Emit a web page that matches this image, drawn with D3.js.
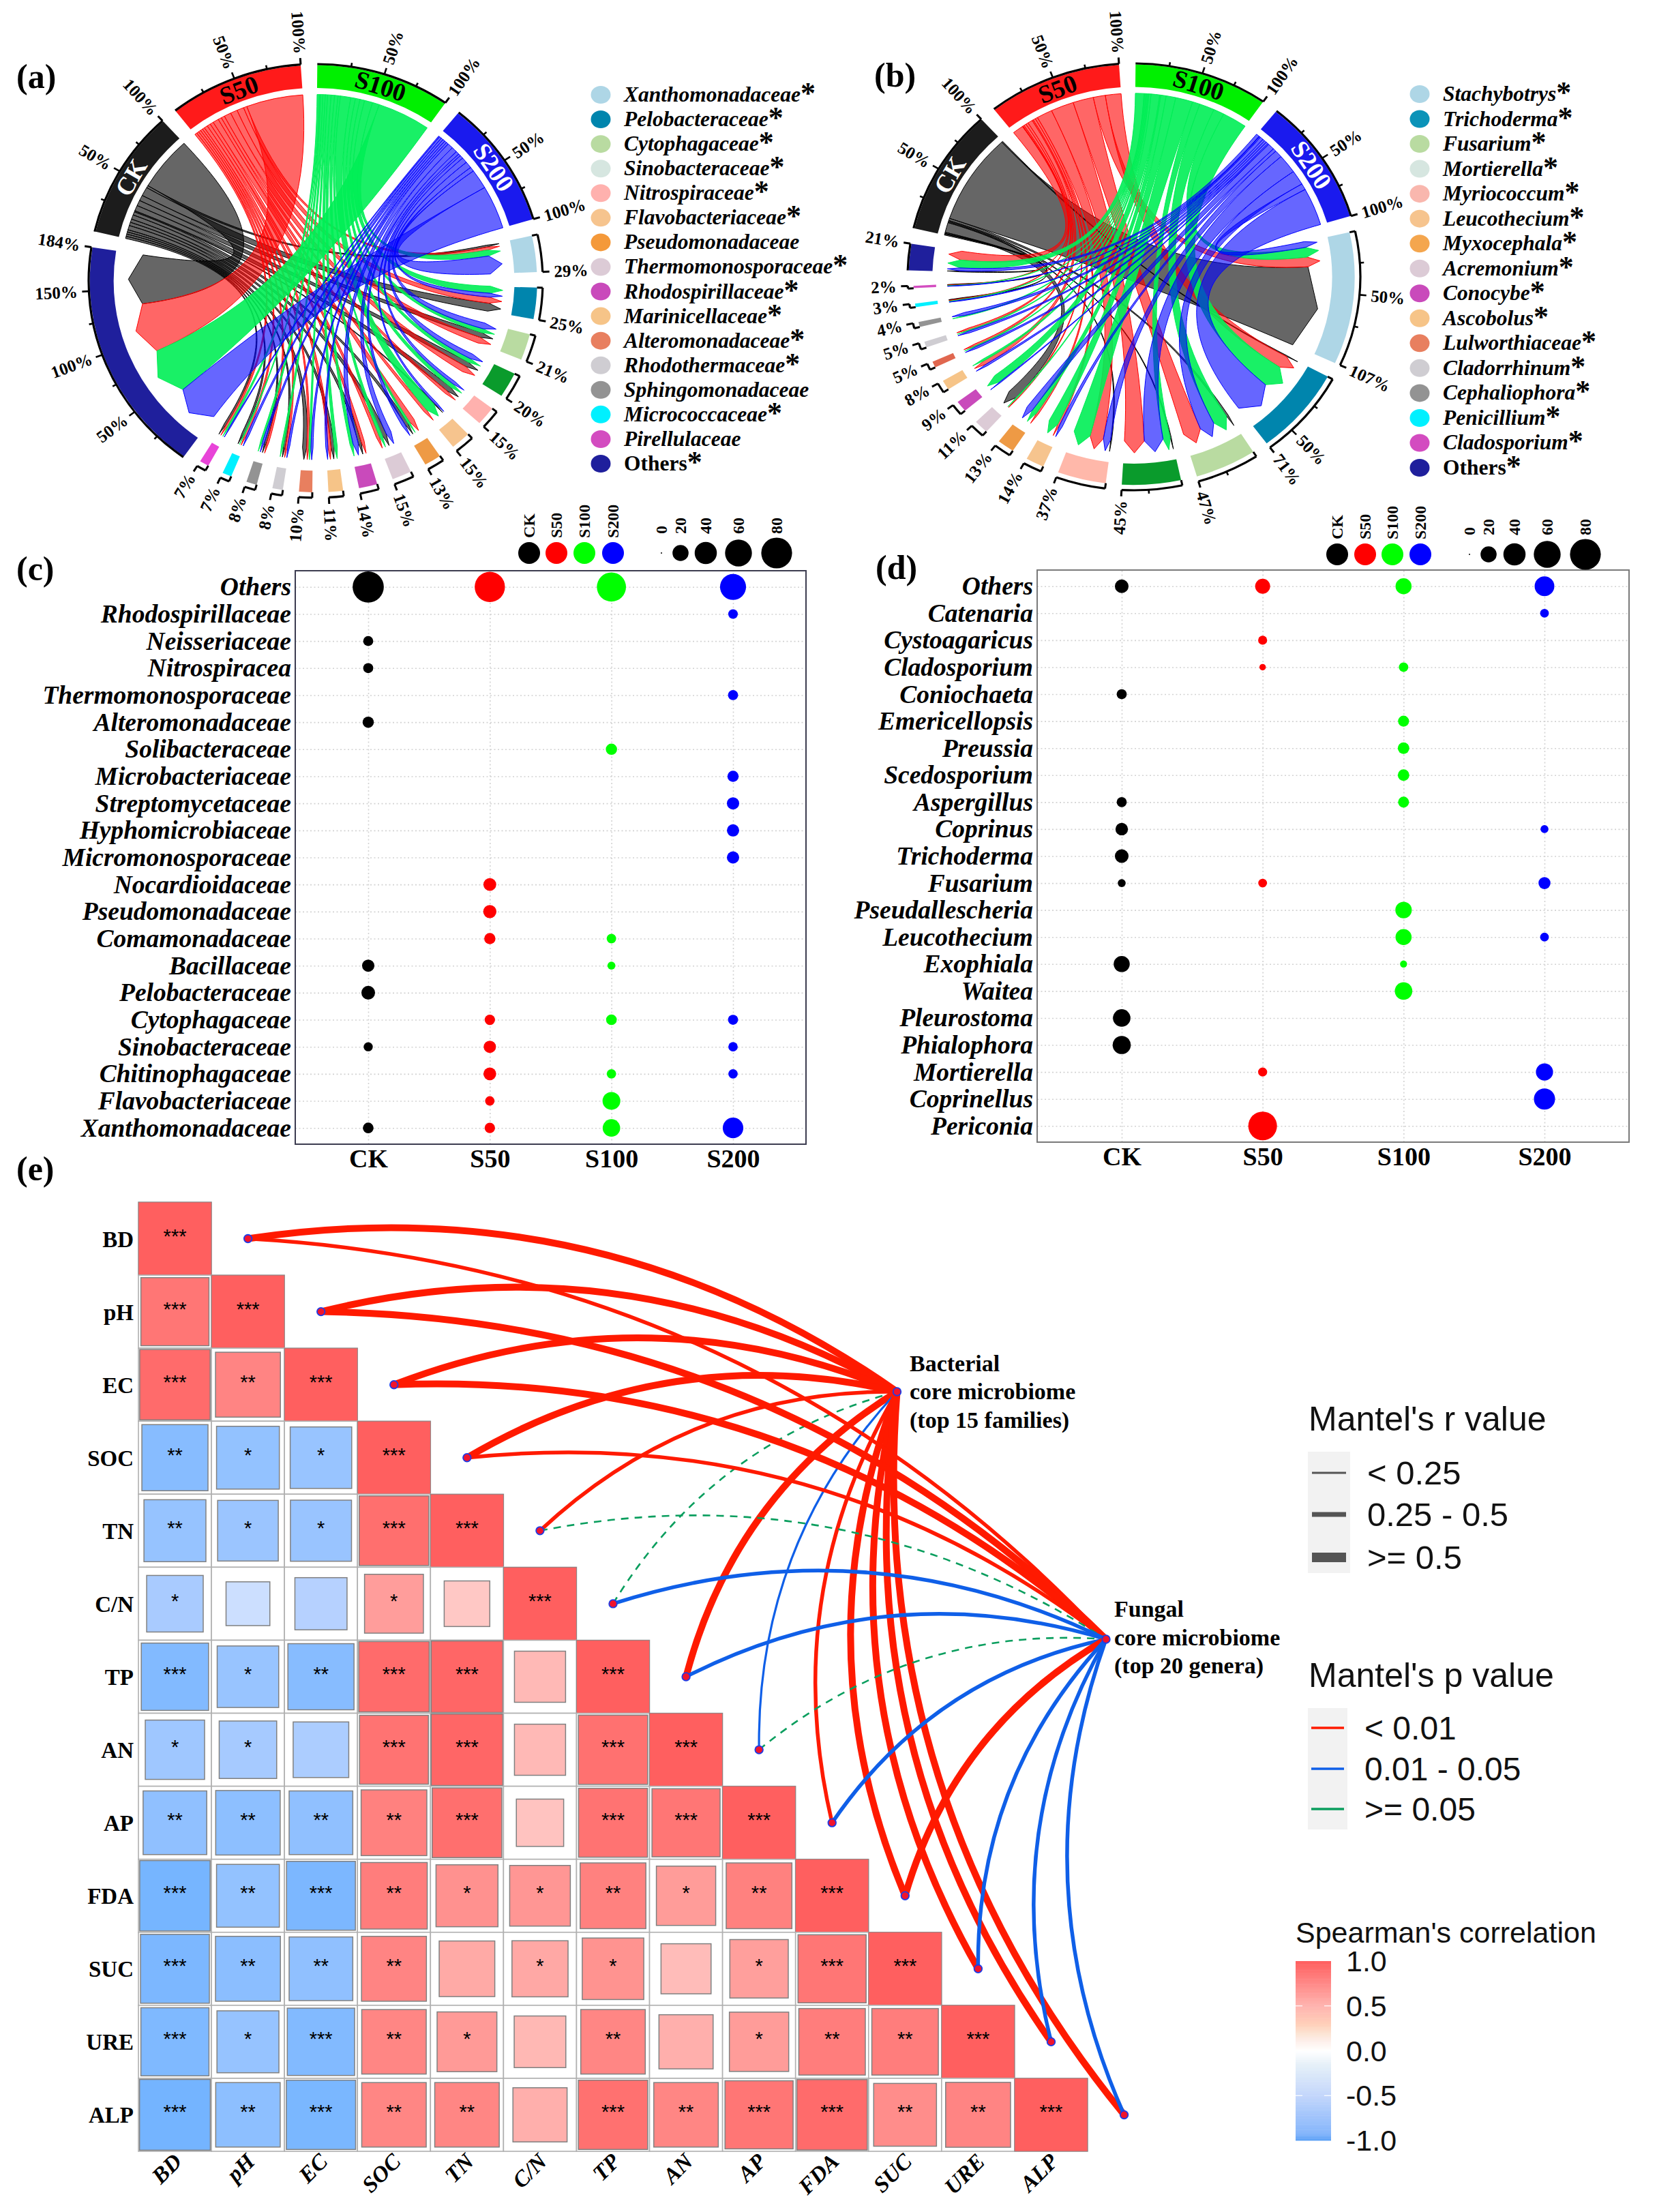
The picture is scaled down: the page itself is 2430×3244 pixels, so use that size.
<!DOCTYPE html>
<html><head><meta charset="utf-8">
<script src="https://cdn.jsdelivr.net/npm/d3@7"></script>
<style>
html,body{margin:0;padding:0;background:#fff}
text{font-family:"Liberation Serif",serif}
.b{font-weight:700}
.bi{font-weight:700;font-style:italic}
.sans{font-family:"Liberation Sans",sans-serif}
</style></head><body><svg id="c" width="2430" height="3244" viewBox="0 0 2430 3244"></svg>
<script>
// ---------- chord data ----------
const treatments=["CK","S50","S100","S200"];
const treatmentFill=["#1c1c1c","#ff1a1a","#00f000","#1a1aee"];
const treatmentLink=["#000000","#ff0000","#00ee55","#0000ff"];
const treatmentLinkOpacity=[0.6,0.6,0.9,0.6];
const treatmentNameFill=["#fff","#000","#000","#fff"];

const familiesA=["Xanthomonadaceae","Pelobacteraceae","Cytophagaceae","Sinobacteraceae","Nitrospiraceae","Flavobacteriaceae","Pseudomonadaceae","Thermomonosporaceae","Rhodospirillaceae","Marinicellaceae","Alteromonadaceae","Rhodothermaceae","Sphingomonadaceae","Micrococcaceae","Pirellulaceae","Others"];
const totalsA=[29,25,21,20,15,15,13,15,14,11,10,8,8,7,7,184];
const starredA=[1,1,1,1,1,1,0,1,1,1,1,1,0,1,0,1];
const legendColorsA=["#aed6e6","#0085ad","#b9dba1","#d6e6e0","#ffb1ae","#f6c48e","#f4993a","#dccbd6","#c94abb","#f6c488","#e87f5f","#cfcdd2","#939393","#00f0ff","#d34cc0","#1f1f9c"];
const barColorsA=["#aed6e6","#0085ad","#b9dba1","#0a9b2c","#ffb1ae","#f6c48e","#ee9a45","#dccbd6","#c94abb","#f6c488","#e87f5f","#cfcdd2","#939393","#00f0ff","#e844d8","#1f1f9c"];
// rows follow families, columns CK,S50,S100,S200
const linksA=[[2,3,6,18],[8,6,7,4],[5,6,4,6],[5,6,4,5],[5,3,4,3],[1,3,9,2],[3,5,2,3],[4,3,3,5],[3,3,3,5],[3,3,3,2],[4,2,2,2],[2,2,2,2],[2,2,2,2],[2,2,1,2],[2,2,2,1],[49,49,46,40]];
// clockwise order of treatments inside each target sector
const targetOrderA=[[0,1,2,3],[2,3,1,0],[3,2,0,1],[3,2,0,1],[3,2,0,1],[3,0,2,1],[1,2,0,3],[3,0,2,1],[1,0,3,2],[2,0,1,3],[3,2,1,0],[3,1,0,2],[1,0,3,2],[3,1,2,0],[3,2,1,0],[3,2,1,0]];
const sourceOrderA=[14,13,12,11,10,9,8,7,6,5,4,3,2,1,0,15];

const familiesB=["Stachybotrys","Trichoderma","Fusarium","Mortierella","Myriococcum","Leucothecium","Myxocephala","Acremonium","Conocybe","Ascobolus","Lulworthiaceae","Cladorrhinum","Cephaliophora","Penicillium","Cladosporium","Others"];
const totalsB=[107,71,47,45,37,14,13,11,9,8,5,5,4,3,2,21];
const starredB=[1,1,1,1,1,1,1,1,1,1,1,1,1,1,1,1];
const legendColorsB=["#aed6e6","#0b93b8","#b9dba1","#d6e6e0","#f9b7ae","#f6c48e","#f4a64e","#dccbd6","#c94abb","#f6c488","#e87f5f","#cfcdd2","#939393","#00f0ff","#d34cc0","#1f1f9c"];
const barColorsB=["#aed6e6","#0085ad","#b9dba1","#0a9b2c","#ffb8aa","#f6c48e","#ee9a45","#dccbd6","#c94abb","#f6c488","#e0674f","#cfcdd2","#939393","#00f0ff","#d34cc0","#1f1f9c"];
const linksB=[[82,10,10,6],[1,13,23,36],[2,17,14,14],[1,19,7,18],[1,13,16,7],[0,2,9,3],[0,2,5,6],[9,1,1,0],[0,0,8,1],[0,4,2,2],[0,2,1,2],[0,2,1,2],[0,0,1,3],[1,1,1,1],[0.5,0.5,0.5,0.5],[1,9,8,3]];
const targetOrderB=[[3,2,1,0],[0,1,2,3],[0,2,3,1],[0,2,3,1],[0,3,1,2],[3,1,2,0],[1,2,3,0],[1,2,0,3],[3,2,1,0],[3,1,2,0],[3,2,1,0],[3,2,1,0],[2,3,1,0],[3,2,1,0],[3,2,1,0],[0,3,2,1]];
const sourceOrderB=[15,14,13,12,11,10,9,8,7,6,5,4,3,2,0,1];

// ---------- bubble data ----------
const bubbleColumns=["CK","S50","S100","S200"];
const bubbleFill=["#000000","#ff0000","#00ff00","#0000ff"];
const sizeLegend=[0,20,40,60,80];
const rowsC=["Others","Rhodospirillaceae","Neisseriaceae","Nitrospiracea","Thermomonosporaceae","Alteromonadaceae","Solibacteraceae","Microbacteriaceae","Streptomycetaceae","Hyphomicrobiaceae","Micromonosporaceae","Nocardioidaceae","Pseudomonadaceae","Comamonadaceae","Bacillaceae","Pelobacteraceae","Cytophagaceae","Sinobacteraceae","Chitinophagaceae","Flavobacteriaceae","Xanthomonadaceae"];
const valuesC=[[82,77,71,56],[0,0,0,6.3],[7,0,0,0],[7,0,0,0],[0,0,0,7],[9,0,0,0],[0,0,9,0],[0,0,0,9],[0,0,0,11],[0,0,0,11],[0,0,0,11],[0,12,0,0],[0,13,0,0],[0,9,6,0],[11,0,4,0],[14,0,0,0],[0,7.5,8,7],[5.5,11,0,6],[0,12,6,6],[0,6,25,0],[8,7.5,24,34]];
const rowsD=["Others","Catenaria","Cystoagaricus","Cladosporium","Coniochaeta","Emericellopsis","Preussia","Scedosporium","Aspergillus","Coprinus","Trichoderma","Fusarium","Pseudallescheria","Leucothecium","Exophiala","Waitea","Pleurostoma","Phialophora","Mortierella","Coprinellus","Periconia"];
const valuesD=[[14,17,20,31],[0,0,0,5],[0,5.4,0,0],[0,2.4,6,0],[7,0,0,0],[0,0,8.5,0],[0,0,9.5,0],[0,0,9.5,0],[7,0,8.5,0],[11.5,0,0,4],[14,0,0,0],[4,5,0,10.5],[0,0,21,0],[0,0,20,5],[20,0,3,0],[0,0,24,0],[24,0,0,0],[26,0,0,0],[0,5.5,0,23],[0,0,0,36],[0,69,0,0]];

// ---------- correlation data ----------
const envVars=["BD","pH","EC","SOC","TN","C/N","TP","AN","AP","FDA","SUC","URE","ALP"];
const corrLower=[
[1],
[.87,1],
[.93,.79,1],
[-.82,-.74,-.71,1],
[-.72,-.69,-.70,.91,1],
[-.60,-.36,-.51,.65,.39,1],
[-.85,-.71,-.82,.93,.96,.49,1],
[-.66,-.62,-.58,.89,.96,.49,.90,1],
[-.76,-.78,-.76,.81,.91,.42,.89,.87,1],
[-.93,-.74,-.89,.83,.72,.69,.81,.66,.81,1],
[-.89,-.79,-.76,.79,.58,.59,.71,.47,.64,.87,1],
[-.87,-.72,-.85,.78,.67,.50,.78,.55,.66,.83,.83,1],
[-.94,-.78,-.90,.78,.78,.55,.90,.78,.87,.93,.74,.79,1]];
const starsLower=[
["***"],
["***","***"],
["***","**","***"],
["**","*","*","***"],
["**","*","*","***","***"],
["*","","","*","","***"],
["***","*","**","***","***","","***"],
["*","*","","***","***","","***","***"],
["**","**","**","**","***","","***","***","***"],
["***","**","***","**","*","*","**","*","**","***"],
["***","**","**","**","","*","*","","*","***","***"],
["***","*","***","**","*","","**","","*","**","**","***"],
["***","**","***","**","**","","***","**","***","***","**","**","***"]];
const corrStops=[-1,-.5,0,.5,1];
const corrColors=["#6bb0ff","#b8d2ff","#ffffff","#ffb8b4","#ff5f5f"];
const barStops=[-1,-.92,-.5,-.15,0,.12,.2,.3,.5,1];
const barColors=["#5aa0f5","#86b6fb","#c3d6fb","#e6f0f8","#ffffff","#fdeee8","#fce2d2","#ffcfb8","#ffb4b0","#ff5f5f"];
const corrTicks=[1,.5,0,-.5,-1];
// Mantel classes: p 0 <0.01, 1 0.01-0.05, 2 >=0.05 ; r 0 <0.25, 1 0.25-0.5, 2 >=0.5
const bacterialP=[0,0,0,0,0,2,0,1,0,0,0,0,0];
const bacterialR=[2,2,2,2,1,0,2,0,1,2,2,2,2];
const fungalP=[0,0,0,0,2,1,1,2,1,0,1,1,1];
const fungalR=[1,2,2,1,0,1,1,0,1,2,1,1,1];
const pColors=["#ff1a00","#0f5fe8","#0a9e5e"];
const rWidths=[3.2,5.5,10];
const rLegend=["< 0.25","0.25 - 0.5",">= 0.5"];
const pLegend=["< 0.01","0.01 - 0.05",">= 0.05"];

const svg=d3.select("#c");
const rad=d=>d*Math.PI/180;

function panelLabel(t,x,y){svg.append("text").attr("class","b").attr("x",x).attr("y",y).attr("font-size",50).text(t);}
panelLabel("(a)",24,129);panelLabel("(b)",1282,127);panelLabel("(c)",24,851);panelLabel("(d)",1284,849);panelLabel("(e)",24,1731);

function drawChord(o){
  const names=[...treatments,...o.families];
  const vals=[100,100,100,100,...o.totals];
  // circular order: S100,S200,families...,CK,S50
  const seq=[2,3,...o.families.map((_,i)=>i+4),0,1];
  const gap=4.2,sum=d3.sum(vals),unit=(360-gap*seq.length)/sum;
  let a=0.4;const scale={};
  seq.forEach(i=>{scale[i]=d3.scaleLinear().domain([0,vals[i]]).range([a,a+vals[i]*unit]);a+=vals[i]*unit+gap;});
  const px=(deg,r)=>[o.cx+o.rx*r*Math.sin(rad(deg)),o.cy-o.ry*r*Math.cos(rad(deg))];
  const root=svg.append("g");
  const uni=root.append("g").attr("transform",`translate(${o.cx},${o.cy}) scale(${o.rx},${o.ry})`);
  const up=(deg,r)=>[r*Math.sin(rad(deg)),-r*Math.cos(rad(deg))];

  // link geometry
  const tPos=o.families.map((f,i)=>{
    const s=scale[i+4];const tot=d3.sum(o.links[i]);let cur=0;const out={};
    o.targetOrder[i].forEach(t=>{const v=o.links[i][t];out[t]=[s(cur/tot*o.totals[i]),s((cur+v)/tot*o.totals[i])];cur+=v;});
    return out;});
  const paths=[];
  treatments.forEach((tn,t)=>{
    const s=scale[t];const tot=d3.sum(o.links,r=>r[t]);let cur=0;
    o.sourceOrder.forEach(fi=>{
      const v=o.links[fi][t];if(!v)return;
      const s0=s(cur/tot*100),s1=s((cur+v)/tot*100);cur+=v;
      const [t0,t1]=tPos[fi][t];const tm=(t0+t1)/2;
      const rs=0.86,rt=0.825,rb=0.77,c=0.25;
      const p=d3.path();
      p.moveTo(...up(s0,rs));
      p.arc(0,0,rs,rad(s0-90),rad(s1-90));
      p.bezierCurveTo(...up(s1,c),...up(t0,c),...up(t0,rb));
      p.lineTo(...up(tm,rt));
      p.lineTo(...up(t1,rb));
      p.bezierCurveTo(...up(t1,c),...up(s0,c),...up(s0,rs));
      p.closePath();
      paths.push({d:p.toString(),t});
    });
  });
  uni.selectAll("path.link").data(paths).join("path").attr("class","link").attr("d",d=>d.d)
    .attr("fill",d=>treatmentLink[d.t]).attr("fill-opacity",d=>treatmentLinkOpacity[d.t])
    .attr("stroke",d=>treatmentLink[d.t]).attr("stroke-width",1).attr("vector-effect","non-scaling-stroke");

  // sector bars
  const isBig=i=>i<4||i===names.length-1;
  const arc=d3.arc();
  seq.forEach(i=>{
    const [a0,a1]=scale[i].range();
    uni.append("path").attr("d",arc({innerRadius:isBig(i)?0.89:0.875,outerRadius:isBig(i)?0.995:0.975,startAngle:rad(a0),endAngle:rad(a1)}))
      .attr("fill",i<4?treatmentFill[i]:o.barColors[i-4]);
    // axis line
    const ax=d3.path();ax.arc(0,0,1,rad(a0-90),rad(a1-90));
    uni.append("path").attr("d",ax.toString()).attr("fill","none").attr("stroke","#000").attr("stroke-width",3.2).attr("vector-effect","non-scaling-stroke");
    const tick=(deg,r0,r1,w)=>{const[p,q]=[up(deg,r0),up(deg,r1)];uni.append("line").attr("x1",p[0]).attr("y1",p[1]).attr("x2",q[0]).attr("y2",q[1]).attr("stroke","#000").attr("stroke-width",w).attr("vector-effect","non-scaling-stroke");};
    const label=(deg,t)=>{
      const d=((deg%360)+360)%360,right=d<180;
      const [x,y]=px(deg,1.05);
      root.append("text").attr("class","b").attr("font-size",25)
        .attr("transform",`translate(${x},${y}) rotate(${right?d-90:d+90})`)
        .attr("text-anchor",right?"start":"end").attr("dy","0.34em").text(t);
    };
    const V=vals[i],s=scale[i];
    if(!isBig(i))tick(s(0),1,0.975,3);
    if(V>=30)d3.range(25,V,25).filter(v=>V-v>=15).forEach(v=>{const lab=v%50===0;tick(s(v),1,lab?1.03:1.018,2.6);if(lab)label(s(v),v+"%");});
    tick(s(V),1,1.03,3);label(s(V),V+"%");
    if(i<4){
      const m=(a0+a1)/2,[x,y]=px(m,0.943);
      root.append("text").attr("class","b").attr("font-size",37).attr("fill",treatmentNameFill[i])
        .attr("transform",`translate(${x},${y}) rotate(${m})`).attr("text-anchor","middle").attr("dy","0.34em").text(names[i]);
    }
  });
  // legend
  const yL=d3.scaleLinear().domain([0,15]).range([o.ly0,o.ly1]);
  o.families.forEach((f,i)=>{
    svg.append("ellipse").attr("cx",o.lx).attr("cy",yL(i)).attr("rx",14.5).attr("ry",13).attr("fill",o.legendColors[i]);
    const t=svg.append("text").attr("x",o.lx+34).attr("y",yL(i)+10).attr("font-size",o.lfs).attr("class",f==="Others"?"b":"bi").text(f);
    if(o.starred[i])t.append("tspan").attr("font-size",44).attr("font-style","normal").attr("dy",2).text("*");
  });
}
drawChord({cx:463,cy:412,rx:333,ry:318,families:familiesA,totals:totalsA,links:linksA,targetOrder:targetOrderA,sourceOrder:sourceOrderA,barColors:barColorsA,legendColors:legendColorsA,starred:starredA,lx:881,ly0:139,ly1:680,lfs:31.5});
drawChord({cx:1663,cy:406,rx:332,ry:313,families:familiesB,totals:totalsB,links:linksB,targetOrder:targetOrderB,sourceOrder:sourceOrderB,barColors:barColorsB,legendColors:legendColorsB,starred:starredB,lx:2082,ly0:138,ly1:686,lfs:31.5});

// ---------- bubble panels ----------
const rScale=d3.scaleSqrt().domain([0,80]).range([1,22.6]);
function drawBubble(o){
  const x=d3.scalePoint().domain(bubbleColumns).range([o.x0,o.x1]).padding(0.6);
  const y=d3.scalePoint().domain(o.rows).range([o.y0,o.y1]).padding(0.6);
  const g=svg.append("g");
  g.append("g").attr("transform",`translate(0,${o.y1})`).call(d3.axisBottom(x).tickSize(-(o.y1-o.y0)).tickPadding(7))
    .call(s=>{s.select(".domain").remove();s.selectAll("line").attr("stroke","#d2d2d2").attr("stroke-width",1.6).attr("stroke-dasharray","2 3.5");
      s.selectAll("text").attr("class","b").attr("font-size",38).attr("fill","#000").style("font-family",'"Liberation Serif",serif');});
  g.append("g").attr("transform",`translate(${o.x0},0)`).call(d3.axisLeft(y).tickSize(-(o.x1-o.x0)).tickPadding(6))
    .call(s=>{s.select(".domain").remove();s.selectAll("line").attr("stroke","#d2d2d2").attr("stroke-width",1.6).attr("stroke-dasharray","2 3.5");
      s.selectAll("text").attr("class","bi").attr("font-size",o.fs).attr("fill","#000").style("font-family",'"Liberation Serif",serif');});
  g.append("rect").attr("x",o.x0).attr("y",o.y0).attr("width",o.x1-o.x0).attr("height",o.y1-o.y0).attr("fill","none").attr("stroke",o.border).attr("stroke-width",2);
  o.rows.forEach((r,i)=>bubbleColumns.forEach((c,j)=>{const v=o.values[i][j];if(!v)return;
    g.append("circle").attr("cx",x(c)).attr("cy",y(r)).attr("r",rScale(v)).attr("fill",bubbleFill[j]);}));
  bubbleColumns.forEach((c,j)=>{
    g.append("circle").attr("cx",o.keyX[j]).attr("cy",o.keyY).attr("r",16).attr("fill",bubbleFill[j]);
    g.append("text").attr("class","b").attr("font-size",24).attr("transform",`translate(${o.keyX[j]+8},${o.keyY-22}) rotate(-90)`).text(c);
  });
  sizeLegend.forEach((v,j)=>{
    g.append("circle").attr("cx",o.sizeX[j]).attr("cy",o.keyY).attr("r",rScale(v)).attr("fill","#000");
    g.append("text").attr("class","b").attr("font-size",24).attr("transform",`translate(${o.sizeX[j]+8},${o.keyY-28}) rotate(-90)`).text(v);
  });
}
drawBubble({rows:rowsC,values:valuesC,x0:433,x1:1182,y0:837,y1:1678,border:"#3c3c50",fs:37.5,keyX:[776,816,857,899],sizeX:[970,998,1035,1083,1139],keyY:811});
drawBubble({rows:rowsD,values:valuesD,x0:1521,x1:2389,y0:836,y1:1675,border:"#7a7a7a",fs:37.5,keyX:[1961,2002,2042,2083],sizeX:[2155,2183,2221,2269,2325],keyY:813});

// ---------- correlation triangle ----------
const band=d3.scaleBand().domain(envVars).range([203,1595]);
const bandY=d3.scaleBand().domain(envVars).range([1763,3155]);
const corrColor=d3.scaleLinear().domain(corrStops).range(corrColors);
const cw=band.bandwidth();
const gE=svg.append("g");
corrLower.forEach((row,i)=>row.forEach((v,j)=>{
  const cx=band(envVars[j])+cw/2,cy=bandY(envVars[i])+cw/2;
  gE.append("rect").attr("x",cx-cw/2).attr("y",cy-cw/2).attr("width",cw).attr("height",cw).attr("fill","#fff").attr("stroke","#b0b0b0").attr("stroke-width",1.6);
  const s=Math.sqrt(Math.abs(v))*cw;
  gE.append("rect").attr("x",cx-s/2).attr("y",cy-s/2).attr("width",s).attr("height",s).attr("fill",corrColor(v)).attr("stroke","#808080").attr("stroke-width",v===1?0.8:1.5);
  if(starsLower[i][j])gE.append("text").attr("x",cx).attr("y",cy+6).attr("text-anchor","middle").attr("font-size",29).style("font-family",'"Liberation Sans",sans-serif').text(starsLower[i][j]);
}));
envVars.forEach((v,i)=>{
  gE.append("text").attr("class","b").attr("x",196).attr("y",bandY(v)+cw/2+12).attr("text-anchor","end").attr("font-size",33).text(v);
  gE.append("text").attr("class","bi").attr("transform",`translate(${band(v)+cw/2+12},3172) rotate(-45)`).attr("text-anchor","end").attr("font-size",33).text(v);
});

// ---------- Mantel links ----------
const hubs=[{x:1315.5,y:2041,p:bacterialP,r:bacterialR},{x:1622,y:2404,p:fungalP,r:fungalR}];
const gM=svg.append("g");
const nodePos=i=>[band(envVars[0])+cw*(i+1.5),bandY(envVars[i])+cw/2];
hubs.forEach(h=>envVars.forEach((v,i)=>{
  const [x0,y0]=nodePos(i),dx=h.x-x0,dy=h.y-y0;
  const p=d3.path();p.moveTo(x0,y0);p.quadraticCurveTo((x0+h.x)/2+dy*0.2,(y0+h.y)/2-dx*0.2,h.x,h.y);
  const path=gM.append("path").attr("d",p.toString()).attr("fill","none").attr("stroke",pColors[h.p[i]]).attr("stroke-width",h.p[i]===2?2.6:rWidths[h.r[i]]);
  if(h.p[i]===2)path.attr("stroke-dasharray","11 9");
}));
const node=(x,y)=>gM.append("circle").attr("cx",x).attr("cy",y).attr("r",5.8).attr("fill","#f0142d").attr("stroke","#1c3ce8").attr("stroke-width",1.8);
envVars.forEach((v,i)=>node(...nodePos(i)));
hubs.forEach(h=>node(h.x,h.y));
const hubText=[[1334,[2001,2042,2084],["Bacterial","core microbiome","(top 15 families)"]],[1634,[2361,2403,2444],["Fungal","core microbiome","(top 20 genera)"]]];
hubText.forEach(([x,ys,ls])=>ls.forEach((l,i)=>svg.append("text").attr("class","b").attr("x",x).attr("y",ys[i]+10).attr("font-size",34).text(l)));

// ---------- legends ----------
function sans(x,y,t,fs){return svg.append("text").attr("x",x).attr("y",y).attr("font-size",fs).style("font-family",'"Liberation Sans",sans-serif').attr("fill","#111").text(t);}
sans(1919,2098,"Mantel's r value",50);
svg.append("rect").attr("x",1918).attr("y",2129).attr("width",62).attr("height",178).attr("fill","#f2f2f2");
[2160,2221,2284].forEach((y,i)=>{
  svg.append("line").attr("x1",1924).attr("x2",1974).attr("y1",y).attr("y2",y).attr("stroke","#555").attr("stroke-width",[3,7,14][i]);
  sans(2005,y+17,rLegend[i],49);});
sans(1919,2474,"Mantel's p value",50);
svg.append("rect").attr("x",1918).attr("y",2505).attr("width",58).attr("height",178).attr("fill","#f2f2f2");
[2534,2594,2653].forEach((y,i)=>{
  svg.append("line").attr("x1",1923).attr("x2",1971).attr("y1",y).attr("y2",y).attr("stroke",pColors[i]).attr("stroke-width",3.5);
  sans(2001,y+17,pLegend[i],48);});
sans(1900,2849,"Spearman's correlation",43);
const barY=d3.scaleLinear().domain([1,-1]).range([2876,3139]);
const barColor=d3.scaleLinear().domain(barStops).range(barColors);
d3.range(-1,1,0.02).forEach(v=>{
  svg.append("rect").attr("x",1900).attr("width",52).attr("y",barY(v+0.02)).attr("height",barY(v)-barY(v+0.02)+0.5).attr("fill",barColor(v+0.01));
});
corrTicks.forEach(v=>{
  sans(1974,barY(v)+15,v.toFixed(1),43);
  if(Math.abs(v)<1){[[1900,1910],[1942,1952]].forEach(([a,b])=>svg.append("line").attr("x1",a).attr("x2",b).attr("y1",barY(v)).attr("y2",barY(v)).attr("stroke","#fff").attr("stroke-width",1.2));}
});
</script></body></html>
